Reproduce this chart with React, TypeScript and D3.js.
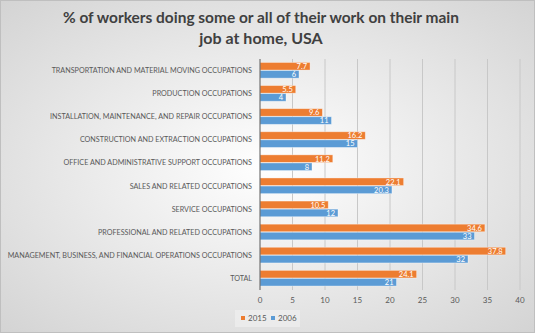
import React from "react";
import * as d3 from "d3";

const categories = [
  "TRANSPORTATION AND MATERIAL MOVING OCCUPATIONS",
  "PRODUCTION OCCUPATIONS",
  "INSTALLATION, MAINTENANCE, AND REPAIR OCCUPATIONS",
  "CONSTRUCTION AND EXTRACTION OCCUPATIONS",
  "OFFICE AND ADMINISTRATIVE SUPPORT OCCUPATIONS",
  "SALES AND RELATED OCCUPATIONS",
  "SERVICE OCCUPATIONS",
  "PROFESSIONAL AND RELATED OCCUPATIONS",
  "MANAGEMENT, BUSINESS, AND FINANCIAL OPERATIONS OCCUPATIONS",
  "TOTAL",
];
const values2015 = [7.7, 5.5, 9.6, 16.2, 11.2, 22.1, 10.5, 34.6, 37.8, 24.1];
const values2006 = [6, 4, 11, 15, 8, 20.3, 12, 33, 32, 21];
const xTicks = [0, 5, 10, 15, 20, 25, 30, 35, 40];
const seriesNames = ["2015", "2006"];
const colors = ["#ED7D31", "#5B9BD5"];

const W = 535, H = 333;

export default function App() {
  const x = d3.scaleLinear().domain([0, 40]).range([260, 520]);
  const y = d3.scaleBand<string>().domain(categories).range([59, 290]).paddingInner(0.3).paddingOuter(0.15);
  const inner = d3.scaleBand<string>().domain(seriesNames).range([0, y.bandwidth()]);
  const series = [values2015, values2006];
  const font = "Lato, 'Open Sans', sans-serif";
  return (
    <svg width={W} height={H} style={{ position: "absolute", left: 0, top: 0 }} fontFamily={font}>
      <defs>
        <radialGradient id="bg" cx="50%" cy="50%" r="70%">
          <stop offset="0%" stopColor="#ffffff" />
          <stop offset="100%" stopColor="#d4d4d4" />
        </radialGradient>
      </defs>
      <rect x={0.5} y={0.5} width={W - 1} height={H - 1} fill="url(#bg)" stroke="#bfbfbf" />
      <text x={261} y={23} textAnchor="middle" fontSize={16} fontWeight="bold" fill="#404040" textLength={396} lengthAdjust="spacingAndGlyphs">
        % of workers doing some or all of their work on their main
      </text>
      <text x={261} y={44} textAnchor="middle" fontSize={16} fontWeight="bold" fill="#404040">
        job at home, USA
      </text>
      {xTicks.map((t) => (
        <g key={t}>
          {t > 0 && <line x1={x(t)} x2={x(t)} y1={59} y2={290} stroke="#c8c8c8" strokeWidth={1} />}
          <text x={x(t)} y={303} textAnchor="middle" fontSize={8} fill="#595959">{t}</text>
        </g>
      ))}
      {categories.map((c, i) => (
        <g key={c}>
          <text x={252} y={(y(c) as number) + y.bandwidth() / 2 + 2.5} textAnchor="end" fontSize={7.2} fill="#595959">
            {c}
          </text>
          {series.map((vals, s) => {
            const by = (y(c) as number) + (inner(seriesNames[s]) as number);
            const bh = inner.bandwidth();
            return (
              <g key={s}>
                <rect x={x(0)} y={by} width={x(vals[i]) - x(0)} height={bh - 0.5} fill={colors[s]} stroke="rgba(255,255,255,0.45)" strokeWidth={0.8} />
                <text x={x(vals[i]) - 3} y={by + bh / 2 + 2.6} textAnchor="end" fontSize={7.5} fill="#ffffff">
                  {vals[i]}
                </text>
              </g>
            );
          })}
        </g>
      ))}
      <line x1={x(0)} x2={x(0)} y1={59} y2={290} stroke="#595959" strokeWidth={1} />
      <rect x={235} y={310} width={65} height={17} fill="#f2f2f2" opacity={0.6} />
      {seriesNames.map((n, s) => (
        <g key={n}>
          <rect x={241 + s * 30} y={316} width={4} height={4} fill={colors[s]} />
          <text x={248 + s * 30} y={321} fontSize={8} fill="#595959">{n}</text>
        </g>
      ))}
    </svg>
  );
}
